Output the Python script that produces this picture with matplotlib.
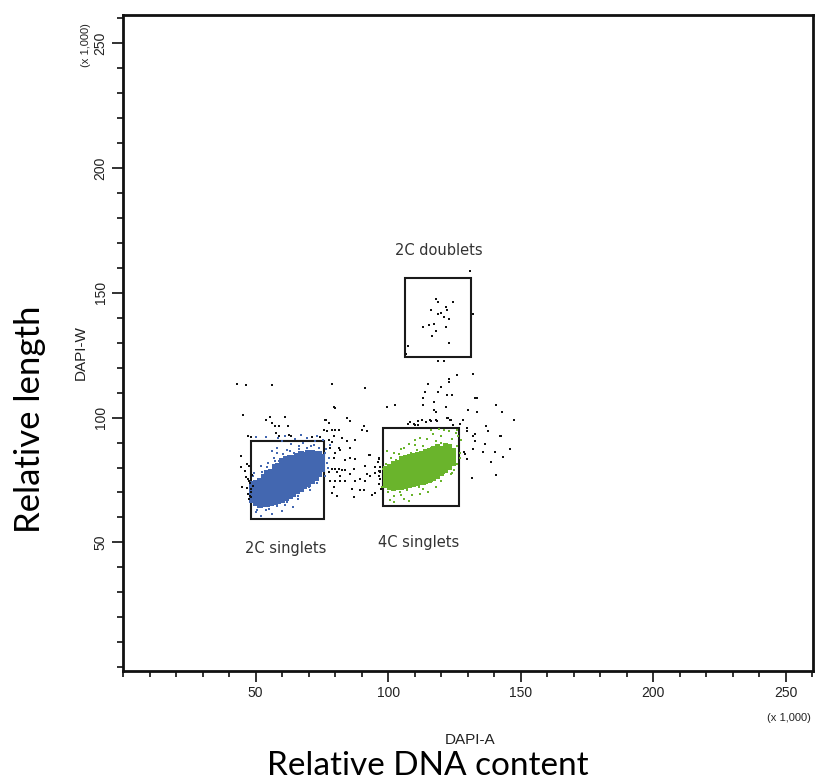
import matplotlib
matplotlib.use("Agg")
import matplotlib.pyplot as plt
from matplotlib.patches import Rectangle
from matplotlib.ticker import MultipleLocator

# ---- data (DAPI-A, DAPI-W in units of 1,000) ----
# sparse black events outside / between gates
black_x = [42.9, 46.5, 56.3, 78.8, 79.4, 80.1, 45.2, 54.0, 55.6, 61.0, 56.3, 57.3, 58.8, 62.3,
           76.3, 77.6, 57.5, 58.8, 62.5, 63.2, 47.3, 75.7, 76.9, 78.8, 80.1, 81.3, 79.4, 82.6,
           71.1, 74.1, 91.4, 99.5, 102.6, 76.6, 84.5, 85.7, 90.7, 90.1, 92.0, 79.4, 77.6, 78.8,
           84.5, 87.6, 81.3, 81.9, 85.7, 78.2, 80.1, 79.4, 83.8, 85.7, 87.6, 92.6, 93.2, 96.4,
           78.8, 80.1, 81.3, 82.6, 83.8, 87.0, 91.4, 95.1, 97.0, 77.6, 80.7, 81.9, 85.7, 92.0,
           93.2, 95.1, 78.2, 80.1, 81.9, 83.8, 87.6, 89.5, 91.4, 97.0, 96.4, 79.4, 78.8, 80.7,
           86.4, 89.5, 90.7, 93.9, 95.1, 87.0,
           118.7, 121.1, 125.9, 132.1, 122.9, 122.9, 114.9, 119.9, 113.9, 118.7, 122.3, 124.2,
           113.2, 113.2, 117.4, 132.7, 133.3, 121.7, 140.6, 117.3, 118.0, 130.2, 133.3, 143.1,
           122.1, 122.7, 117.9, 123.7, 128.3, 147.4, 112.7, 116.0, 114.3, 108.3, 110.2, 111.4,
           124.5, 129.6, 129.6, 136.8, 137.7, 132.7, 132.1, 142.1, 142.7, 132.7, 136.5, 146.1,
           132.1, 135.8, 140.2, 128.9, 143.3, 129.6, 138.7, 140.6, 131.5, 128.7,
           130.8, 117.9, 118.7, 124.5, 121.7, 122.3, 116.0, 119.8, 118.7, 121.1, 122.8, 132.1,
           117.4, 115.5, 113.0, 121.7, 117.9, 116.5, 122.8, 107.6, 106.9, 119.8,
           44.6, 46.9, 47.5, 46.2, 47.3, 47.5, 47.7, 45.0, 46.9, 48.1, 47.3, 47.7, 48.1, 47.5,
           44.4, 46.0, 48.1, 48.6, 49.0, 48.4,
           96.4, 96.1, 97.0, 96.6, 97.0, 96.6, 97.0, 97.4, 107.6, 109.9, 111.2, 112.7, 115.8,
           118.3, 123.3, 127.1]
black_y = [113.5, 112.9, 112.9, 113.5, 104.4, 103.9, 101.2, 99.2, 100.4, 100.4, 97.9, 96.5, 96.5, 96.5,
           99.2, 97.9, 93.9, 92.5, 93.2, 92.5, 92.5, 95.2, 94.5, 95.2, 95.2, 95.2, 92.5, 91.9,
           92.1, 92.1, 111.9, 104.4, 105.2, 99.2, 99.9, 98.6, 96.8, 95.2, 94.5, 92.8, 91.0, 90.4,
           90.5, 91.2, 87.8, 87.1, 87.8, 87.8, 85.8, 83.8, 83.1, 83.7, 83.4, 85.0, 85.0, 83.4,
           79.3, 79.3, 79.3, 79.0, 78.9, 79.4, 80.7, 80.1, 78.7, 78.1, 78.1, 76.7, 77.4, 77.4,
           76.7, 77.8, 74.7, 74.7, 74.7, 74.7, 74.7, 75.4, 74.7, 75.4, 73.4, 72.0, 69.8, 68.7,
           71.4, 71.1, 71.1, 69.0, 69.8, 68.0,
           122.6, 122.6, 116.9, 117.5, 115.5, 114.2, 113.5, 112.2, 110.4, 110.4, 109.1, 109.1,
           107.8, 105.1, 106.4, 107.8, 107.8, 104.4, 105.2, 103.2, 102.4, 103.1, 102.4, 102.4,
           99.9, 99.9, 99.2, 99.2, 99.2, 99.2, 99.1, 98.6, 98.1, 98.1, 97.2, 97.2,
           97.2, 95.9, 94.5, 96.5, 94.5, 93.5, 92.8, 92.8, 92.8, 90.8, 89.4, 87.4,
           87.4, 86.1, 86.1, 85.4, 84.1, 83.4, 82.3, 77.0, 75.7, 86.1,
           158.8, 147.4, 146.3, 146.3, 144.3, 143.0, 143.0, 142.0, 141.5, 140.2, 139.6, 141.5,
           137.6, 137.2, 136.3, 136.4, 134.5, 132.5, 129.9, 128.5, 125.3, 112.4,
           84.7, 81.4, 80.7, 76.1, 75.4, 74.7, 73.7, 72.0, 71.8, 71.4, 69.4, 68.7, 68.0, 67.3,
           80.1, 78.5, 92.1, 77.0, 72.5, 70.2,
           83.7, 82.3, 80.1, 78.7, 78.1, 76.7, 75.4, 71.4, 97.5, 97.5, 98.8, 99.2, 99.2,
           98.6, 99.2, 97.5]

# 2C singlets: dense core read as columns of events (DAPI-A -> DAPI-W values)
blue_core = {
    48.8: [67.0, 68.6, 70.2, 71.8, 73.4],
    50.2: [65.6, 67.2, 68.8, 70.4, 72.0, 73.6],
    51.6: [65.0, 66.6, 68.2, 69.8, 71.4, 73.0, 74.6],
    53.0: [65.2, 66.8, 68.4, 70.0, 71.6, 73.2, 74.8, 76.4],
    54.4: [65.4, 67.0, 68.6, 70.2, 71.8, 73.4, 75.0, 76.6, 78.0],
    55.8: [65.6, 67.2, 68.8, 70.4, 72.0, 73.6, 75.2, 76.8, 78.4],
    57.2: [66.0, 67.6, 69.2, 70.8, 72.4, 74.0, 75.6, 77.2, 78.8, 80.2],
    58.6: [66.4, 68.0, 69.6, 71.2, 72.8, 74.4, 76.0, 77.6, 79.2, 80.8],
    60.0: [67.0, 68.6, 70.2, 71.8, 73.4, 75.0, 76.6, 78.2, 79.8, 81.4, 82.6],
    61.4: [67.8, 69.4, 71.0, 72.6, 74.2, 75.8, 77.4, 79.0, 80.6, 82.2, 83.4],
    62.8: [68.6, 70.2, 71.8, 73.4, 75.0, 76.6, 78.2, 79.8, 81.4, 83.0, 84.0],
    64.2: [69.4, 71.0, 72.6, 74.2, 75.8, 77.4, 79.0, 80.6, 82.2, 83.8],
    65.6: [70.4, 72.0, 73.6, 75.2, 76.8, 78.4, 80.0, 81.6, 83.2, 84.6],
    67.0: [71.4, 73.0, 74.6, 76.2, 77.8, 79.4, 81.0, 82.6, 84.2, 85.4],
    68.4: [72.4, 74.0, 75.6, 77.2, 78.8, 80.4, 82.0, 83.6, 85.2],
    69.8: [73.4, 75.0, 76.6, 78.2, 79.8, 81.4, 83.0, 84.6, 86.0],
    71.2: [74.6, 76.2, 77.8, 79.4, 81.0, 82.6, 84.2, 85.8],
    72.6: [76.0, 77.6, 79.2, 80.8, 82.4, 84.0, 85.6],
    74.0: [77.6, 79.2, 80.8, 82.4, 84.0, 85.6],
    75.2: [79.6, 81.2, 82.8, 84.4],
}
blue_sparse_x = [56.0, 58.0, 60.0, 62.0, 63.5, 65.0, 66.5, 68.0, 69.5, 71.0, 72.5, 74.0, 75.5, 73.0,
                 67.0, 61.0, 58.5, 70.0, 74.8, 76.5, 77.5, 76.8, 78.0, 50.0, 53.8,
                 50.0, 52.0, 54.0, 56.0, 58.0, 60.0, 62.0, 64.0, 66.0, 68.0, 70.0, 71.5, 73.0,
                 74.5, 75.5, 53.0, 51.0, 49.5, 52.0, 54.5, 49.8, 57.0, 59.0, 64.5, 69.0, 75.0,
                 49.0, 50.5, 55.0, 61.0, 66.0, 70.5, 73.2, 76.2, 54.2, 57.4, 60.2, 63.0, 66.2,
                 69.2, 72.2, 76.0, 77.2, 52.5, 58.0]
blue_sparse_y = [86.5, 88.0, 90.5, 87.0, 89.5, 91.5, 87.5, 89.8, 92.0, 88.5, 90.8, 88.0, 91.0, 92.5,
                 93.0, 92.5, 91.8, 86.6, 85.5, 87.5, 84.0, 82.0, 89.0, 92.1, 92.1,
                 62.0, 60.5, 63.0, 61.5, 64.5, 62.5, 66.0, 64.0, 68.5, 70.5, 72.0, 74.5, 77.0,
                 79.0, 81.0, 77.0, 75.5, 78.0, 80.5, 82.0, 73.5, 84.0, 82.8, 86.0, 76.0, 84.0,
                 76.5, 62.8, 63.5, 64.8, 67.2, 70.8, 73.8, 76.5, 80.2, 82.5, 85.5, 86.6, 88.6,
                 88.0, 89.0, 86.0, 80.0, 78.4, 85.8]

# 4C singlets
green_core = {
    98.8: [73.0, 74.7, 76.4, 78.1, 79.8],
    100.3: [72.0, 73.7, 75.4, 77.1, 78.8, 80.5],
    101.8: [71.8, 73.5, 75.2, 76.9, 78.6, 80.3, 82.0],
    103.3: [72.0, 73.7, 75.4, 77.1, 78.8, 80.5, 82.2],
    104.8: [72.2, 73.9, 75.6, 77.3, 79.0, 80.7, 82.4, 84.0],
    106.3: [72.4, 74.1, 75.8, 77.5, 79.2, 80.9, 82.6, 84.3],
    107.8: [72.8, 74.5, 76.2, 77.9, 79.6, 81.3, 83.0, 84.7],
    109.3: [73.2, 74.9, 76.6, 78.3, 80.0, 81.7, 83.4, 85.1],
    110.8: [73.6, 75.3, 77.0, 78.7, 80.4, 82.1, 83.8, 85.5],
    112.3: [74.0, 75.7, 77.4, 79.1, 80.8, 82.5, 84.2, 85.9],
    113.8: [74.6, 76.3, 78.0, 79.7, 81.4, 83.1, 84.8, 86.5],
    115.3: [75.2, 76.9, 78.6, 80.3, 82.0, 83.7, 85.4, 87.0],
    116.8: [76.0, 77.7, 79.4, 81.1, 82.8, 84.5, 86.2, 87.8],
    118.3: [76.8, 78.5, 80.2, 81.9, 83.6, 85.3, 87.0, 88.5],
    119.8: [77.8, 79.5, 81.2, 82.9, 84.6, 86.3, 88.0],
    121.3: [79.0, 80.7, 82.4, 84.1, 85.8, 87.5, 89.0],
    122.8: [80.4, 82.1, 83.8, 85.5, 87.2, 88.8],
    124.3: [82.0, 83.7, 85.4, 87.1],
}
green_sparse_x = [116.0, 118.0, 120.0, 122.0, 124.0, 125.5, 123.0, 126.0, 127.5, 119.0, 121.5, 117.0,
                  113.0, 111.0, 108.5, 114.5, 110.0, 106.0, 104.0, 127.0, 125.0, 123.5, 126.0,
                  121.0, 125.8, 119.0, 100.0, 102.0, 104.5, 107.0, 109.0, 111.5, 114.0, 116.5,
                  119.0, 121.0, 123.5, 106.0, 112.0, 118.0, 99.0, 101.0, 103.0, 100.5, 115.0,
                  125.0, 108.0, 98.5, 98.0, 97.5, 99.5, 102.0, 105.0, 110.0, 112.0, 116.0,
                  120.0, 126.5, 127.0, 124.0, 120.0, 113.0, 105.0, 102.2, 108.0]
green_sparse_y = [88.0, 90.5, 92.5, 89.0, 91.5, 94.0, 94.8, 88.5, 91.0, 87.5, 86.8, 93.5,
                  88.8, 87.0, 86.0, 91.5, 91.0, 88.0, 85.5, 86.0, 84.0, 80.0, 81.5,
                  95.0, 95.2, 95.5, 70.0, 68.5, 70.0, 71.0, 69.0, 72.0, 73.5, 74.5,
                  76.0, 78.0, 77.5, 67.5, 69.5, 72.0, 81.5, 84.0, 83.0, 66.8, 70.0,
                  79.0, 89.5, 75.0, 79.5, 72.0, 86.5, 86.0, 87.5, 89.0, 92.0, 95.0,
                  90.0, 92.5, 84.0, 78.0, 74.5, 71.5, 68.8, 66.0, 66.5]

# gates: (x0, y0, width, height) and label positions
gate_names = ["2C singlets", "4C singlets", "2C doublets"]
gate_boxes = [(48.4, 59.3, 27.5, 31.5), (97.9, 64.7, 28.7, 31.2), (106.4, 124.3, 24.7, 31.7)]
gate_label_xy = [(61.5, 47.5), (111.5, 49.8), (119.0, 166.8)]

BLUE = "#4367b0"
GREEN = "#6ab42c"

fig = plt.figure(figsize=(8.18, 7.83), dpi=100)
ax = fig.add_axes([0.1504, 0.1430, 0.8435, 0.8378])

# events
for col_x, ys in blue_core.items():
    ax.plot([col_x] * len(ys), ys, "s", color=BLUE, ms=4.0, mew=0)
ax.plot(blue_sparse_x, blue_sparse_y, "s", color=BLUE, ms=1.9, mew=0)
for col_x, ys in green_core.items():
    ax.plot([col_x] * len(ys), ys, "s", color=GREEN, ms=3.6, mew=0)
ax.plot(green_sparse_x, green_sparse_y, "s", color=GREEN, ms=1.9, mew=0)
ax.plot(black_x, black_y, "s", color="#111111", ms=2.0, mew=0)

# gates
for name, (x0, y0, w, h), (tx, ty) in zip(gate_names, gate_boxes, gate_label_xy):
    ax.add_patch(Rectangle((x0, y0), w, h, fill=False, ec="#1a1a1a", lw=1.5))
    ax.text(tx, ty, name, ha="center", va="center", fontsize=10.5,
            family="DejaVu Sans", color="#333333")

ax.set_xlim(0, 260.2)
ax.set_ylim(-1.5, 261.2)

ax.xaxis.set_minor_locator(MultipleLocator(10))
ax.yaxis.set_minor_locator(MultipleLocator(10))
ax.set_xticks([50, 100, 150, 200, 250])
ax.set_yticks([50, 100, 150, 200, 250])

for s in ax.spines.values():
    s.set_linewidth(2.0)
    s.set_color("#111111")

ax.tick_params(which="major", length=8, width=1.3, color="#222222", direction="out")
ax.tick_params(which="minor", length=4.5, width=1.3, color="#222222", direction="out")
ax.tick_params(axis="both", labelsize=10, labelcolor="#222222", pad=3)
ax.tick_params(axis="y", labelrotation=90)
for lab in ax.get_xticklabels() + ax.get_yticklabels():
    lab.set_family("Liberation Sans")
for lab in ax.get_yticklabels():
    lab.set_va("center")

ax.set_xlabel("DAPI-A", fontsize=11, family="Liberation Sans", color="#222222")
ax.xaxis.set_label_coords(0.503, -0.094)
ax.set_ylabel("DAPI-W", fontsize=11, family="Liberation Sans", color="#222222")
ax.yaxis.set_label_coords(-0.051, 0.486)

ax.text(0.965, -0.072, "(x 1,000)", transform=ax.transAxes, ha="center", va="center",
        fontsize=8, family="Liberation Sans", color="#222222")
ax.text(-0.054, 0.954, "(x 1,000)", transform=ax.transAxes, ha="center", va="center",
        rotation=90, fontsize=8, family="Liberation Sans", color="#222222")

fig.text(0.037, 0.464, "Relative length", rotation=90, ha="center", va="center",
         fontsize=25, family="Lato", color="black")
fig.text(0.523, 0.002, "Relative DNA content", ha="center", va="bottom",
         fontsize=24, family="Lato", color="black")

fig.savefig("out.png", dpi=100)
